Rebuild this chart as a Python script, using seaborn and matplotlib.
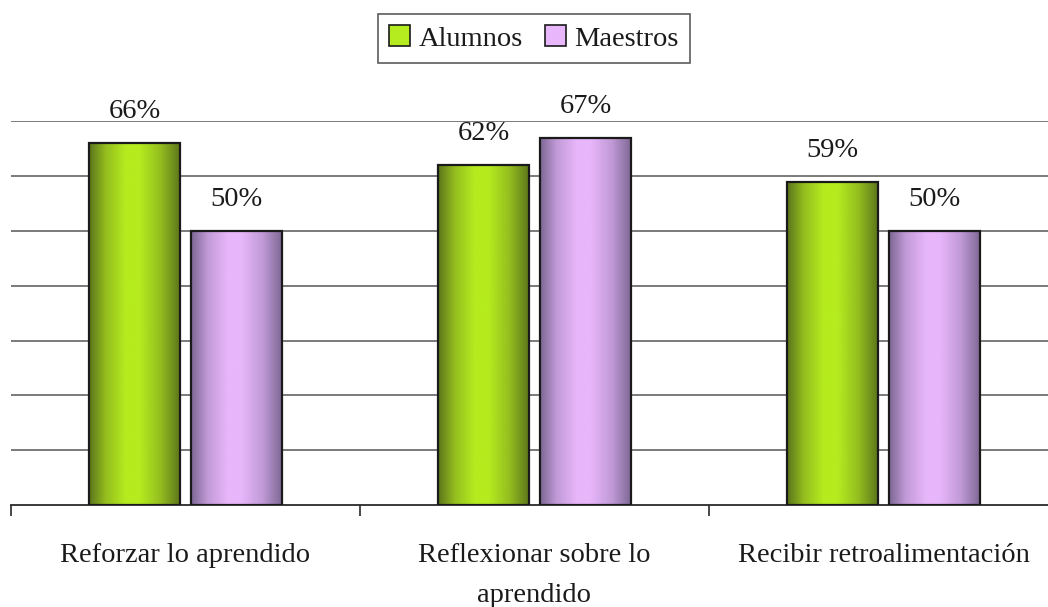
import numpy as np
import pandas as pd
import matplotlib
matplotlib.use("Agg")
import matplotlib.pyplot as plt
from matplotlib.colors import LinearSegmentedColormap
from matplotlib.patches import Patch
import seaborn as sns

# Data
categories = ["Reforzar lo aprendido", "Reflexionar sobre lo\naprendido", "Recibir retroalimentación"]
alumnos = [0.66, 0.62, 0.59]
maestros = [0.50, 0.67, 0.50]
series = ["Alumnos", "Maestros"]

df = pd.DataFrame({
    "categoria": categories * 2,
    "grupo": [series[0]] * 3 + [series[1]] * 3,
    "valor": alumnos + maestros,
})

sns.set_theme(style="white")
plt.rcParams["font.family"] = ["Liberation Serif", "DejaVu Serif"]

FS = 20.5
bright = {"Alumnos": "#b5ec1f", "Maestros": "#e8b6fb"}
mid = {"Alumnos": "#94bd1f", "Maestros": "#c19ad6"}
dark = {"Alumnos": "#5a741b", "Maestros": "#7c6694"}

fig = plt.figure(figsize=(10.48, 6.07), dpi=100)
W, H = 1048, 607
ax = fig.add_axes([11 / W, 102 / H, 1047 / W, 384 / H])

sns.barplot(data=df, x="categoria", y="valor", hue="grupo", order=categories,
            hue_order=series, palette=bright, width=0.585, gap=0.1,
            edgecolor="#1a1a1a", linewidth=1.6, ax=ax, legend=False, zorder=3)

# Horizontal shading inside each bar: dark edges, bright centre
pos = [0.0, 0.18, 0.4, 0.55, 0.78, 1.0]
grad = np.linspace(0, 1, 256).reshape(1, -1)
for i, container in enumerate(ax.containers):
    name = series[i]
    cmap = LinearSegmentedColormap.from_list(
        name, list(zip(pos, [dark[name], mid[name], bright[name], bright[name],
                             mid[name], dark[name]])))
    for bar in container:
        x0, y0 = bar.get_x(), bar.get_y()
        w, h = bar.get_width(), bar.get_height()
        img = ax.imshow(grad, cmap=cmap, aspect="auto", extent=(x0, x0 + w, y0, y0 + h),
                        origin="lower", zorder=2.5, interpolation="bicubic")
        img.set_clip_path(bar)
        bar.set_facecolor("none")
        ax.annotate(f"{h * 100:.0f}%", (x0 + w / 2, y0 + h), xytext=(0, 18),
                    textcoords="offset points", ha="center", va="baseline",
                    fontsize=FS, color="#1a1a1a")

ax.set_xlim(-0.5, 2.5)
ax.set_ylim(0, 0.7005)

# Grid and axes
ax.set_yticks(np.arange(0.1, 0.71, 0.1))
ax.yaxis.grid(True, color="#707070", linewidth=1.3)
ax.set_axisbelow(True)
ax.tick_params(axis="y", left=False, labelleft=False)
for s in ["top", "right", "left"]:
    ax.spines[s].set_visible(False)
ax.spines["bottom"].set_color("#2a2a2a")
ax.spines["bottom"].set_linewidth(1.3)

ax.set_xticks(range(3))
ax.set_xticklabels(categories, fontsize=FS, color="#1a1a1a", linespacing=1.8)
ax.tick_params(axis="x", which="major", length=0, pad=27)
ax.set_xticks([-0.5, 0.5, 1.5, 2.5], minor=True)
ax.tick_params(axis="x", which="minor", length=8, width=1.2, color="#2a2a2a", direction="out", bottom=True)
ax.set_xlabel("")
ax.set_ylabel("")

handles = [Patch(facecolor=bright[s], edgecolor="#1a1a1a", linewidth=1.2, label=s) for s in series]
leg = fig.legend(handles=handles, loc="upper center", bbox_to_anchor=(534 / W, 1 - 14 / H),
                 borderaxespad=0, ncol=2, fontsize=FS, frameon=True, fancybox=False,
                 handlelength=0.75, handleheight=0.75, handletextpad=0.3,
                 columnspacing=0.75, borderpad=0.4)
leg.get_frame().set_edgecolor("#333333")
leg.get_frame().set_linewidth(1.2)
for t in leg.get_texts():
    t.set_color("#1a1a1a")

fig.savefig("out.png", dpi=100)
